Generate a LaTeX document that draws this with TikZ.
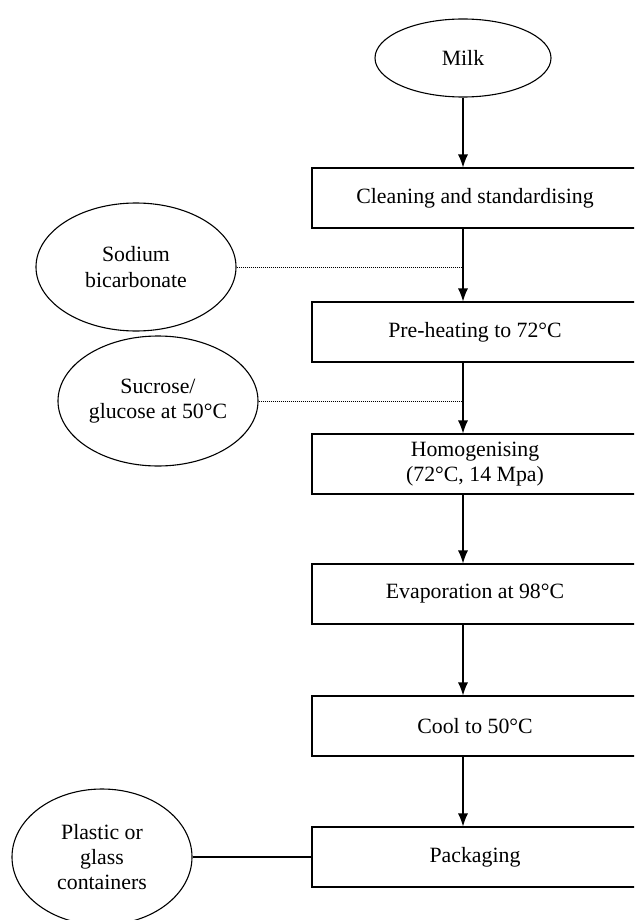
\documentclass[tikz,border=0pt]{standalone}
\usepackage{fontspec}
\setmainfont{Liberation Serif}
\usetikzlibrary{shapes.geometric,arrows.meta}

\tikzset{
  stepbox/.style={draw,line width=0.55pt,minimum width=163pt,minimum height=30pt,inner sep=0pt,align=center},
  addbox/.style={draw,ellipse,line width=0.55pt,inner sep=0pt,align=center},
  flow/.style={-{Latex[length=6.5pt,width=5pt]},line width=0.55pt},
  feed/.style={dash pattern=on 0.4pt off 0.6pt,line width=0.5pt},
}

\begin{document}
\begin{tikzpicture}[x=0.5pt,y=-0.5pt,font=\fontsize{10.9}{12.7}\selectfont]
                  \clip (0,0) rectangle (634,920);

                  % Rohstoff
                  \node[addbox,minimum width=88pt,minimum height=39pt] (milk) at (463,58) {Milk};

                  % Prozessschritte
                  \node[stepbox] (clean) at (475,198) {Cleaning and standardising};
                  \node[stepbox] (preheat) at (475,332) {Pre-heating to 72°C};
                  \node[stepbox] (homog) at (475,464) {Homogenising\\(72°C, 14 Mpa)};
                  \node[stepbox] (evap) at (475,594) {Evaporation at 98°C};
                  \node[stepbox] (cool) at (475,726) {Cool to 50°C};
                  \node[stepbox] (pack) at (475,857) {Packaging};

                  % Zusaetze
                  \node[addbox,minimum width=100pt,minimum height=64pt] (soda) at (136,267) {Sodium\\bicarbonate};
                  \node[addbox,minimum width=100pt,minimum height=65pt] (sugar) at (158,401) {Sucrose/\\glucose at 50°C};
                  \node[addbox,minimum width=90pt,minimum height=68pt] (cont) at (102,857) {Plastic or\\glass\\containers};

                  % Pfeile
                  \draw[flow] (milk) -- (clean.north -| milk);
                  \foreach \a/\b in {clean/preheat,preheat/homog,homog/evap,evap/cool,cool/pack} {
                          \draw[flow] (\a.south -| milk) -- (\b.north -| milk);
                      }

                  % Zufuhr
                  \draw[feed] (soda.east) -- (soda.east -| milk);
                  \draw[feed] (sugar.east) -- (sugar.east -| milk);
                  \draw[line width=0.55pt] (cont.east) -- (pack.west);
              \end{tikzpicture}
\end{document}
